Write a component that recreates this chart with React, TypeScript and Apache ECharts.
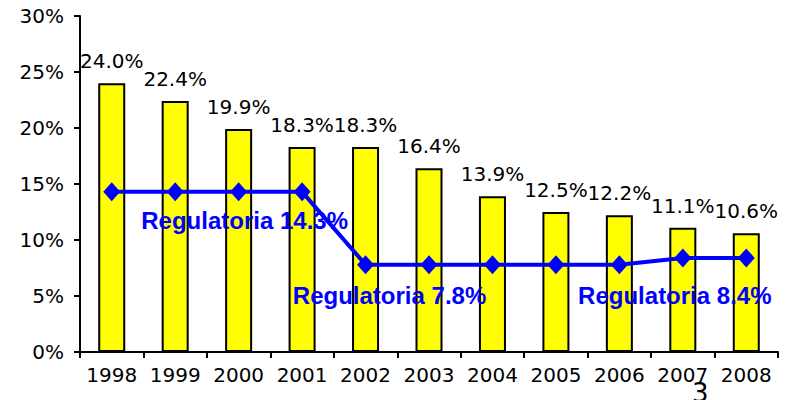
import React, { useEffect, useRef } from "react";
import * as echarts from "echarts";

const years = ["1998", "1999", "2000", "2001", "2002", "2003", "2004", "2005", "2006", "2007", "2008"];
const actual = [24.0, 22.4, 19.9, 18.3, 18.3, 16.4, 13.9, 12.5, 12.2, 11.1, 10.6];
const regulatoria = [14.3, 14.3, 14.3, 14.3, 7.8, 7.8, 7.8, 7.8, 7.8, 8.4, 8.4];
const regLabels: Record<number, { text: string; offset: [number, number] }> = {
  2: { text: "Regulatoria 14.3%", offset: [6, 29] },
  4: { text: "Regulatoria 7.8%", offset: [24, 31] },
  9: { text: "Regulatoria 8.4%", offset: [-8, 38] },
};
const pageNumber = "3";

export default function App() {
  const ref = useRef<HTMLDivElement>(null);
  useEffect(() => {
    if (!ref.current) return;
    const chart = echarts.init(ref.current, null, { renderer: "svg" });
    const font = "'DejaVu Sans', Verdana, sans-serif";
    chart.setOption({
      animation: false,
      backgroundColor: "#ffffff",
      grid: { left: 80, right: 32, top: 16, bottom: 48, containLabel: false },
      xAxis: {
        type: "category",
        data: years,
        axisLine: { lineStyle: { color: "#000", width: 2 } },
        axisTick: { show: true, length: 6, lineStyle: { color: "#000", width: 2 } },
        axisLabel: { color: "#000", fontSize: 20, fontFamily: font, margin: 13, interval: 0 },
      },
      yAxis: {
        type: "value",
        min: 0,
        max: 30,
        interval: 5,
        splitLine: { show: false },
        axisLine: { show: true, lineStyle: { color: "#000", width: 2 } },
        axisTick: { show: true, length: 6, lineStyle: { color: "#000", width: 2 } },
        axisLabel: {
          color: "#000",
          fontSize: 20,
          fontFamily: font,
          margin: 16,
          formatter: (v: number) => `${v}%`,
        },
      },
      series: [
        {
          type: "bar",
          data: actual,
          barWidth: 27,
          itemStyle: { color: "#ffff00", borderColor: "#000", borderWidth: 2 },
          label: {
            show: true,
            position: "top",
            distance: 12,
            color: "#000",
            fontSize: 20,
            fontFamily: font,
            formatter: (p: any) => `${p.value.toFixed(1)}%`,
          },
          z: 2,
        },
        {
          type: "line",
          data: regulatoria.map((v, i) => {
            const l = regLabels[i];
            if (!l) return v;
            return {
              value: v,
              label: {
                show: true,
                position: "inside",
                offset: l.offset,
                formatter: l.text,
                color: "#0000ff",
                fontSize: 24,
                fontWeight: "bold",
                fontFamily: "'Liberation Sans', Arial, sans-serif",
                align: "center",
                verticalAlign: "middle",
              },
            };
          }),
          symbol: "diamond",
          symbolSize: [17, 19],
          lineStyle: { color: "#0000ff", width: 4 },
          itemStyle: { color: "#0000ff" },
          label: { show: false },
          z: 5,
        },
      ],
      graphic: [
        {
          type: "text",
          left: 692,
          top: 380,
          style: { text: pageNumber, fontSize: 26, fontFamily: font, fill: "#000" },
        },
      ],
    });
    return () => chart.dispose();
  }, []);
  return <div ref={ref} style={{ width: 810, height: 400, position: "absolute", left: 0, top: 0 }} />;
}
